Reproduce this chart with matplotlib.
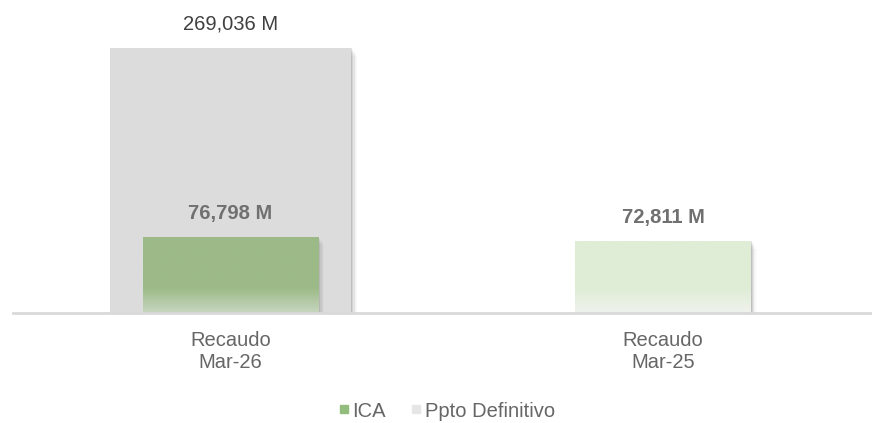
import numpy as np
import matplotlib
matplotlib.use("Agg")
import matplotlib.pyplot as plt
from matplotlib.colors import LinearSegmentedColormap
from matplotlib.patches import Rectangle
from matplotlib.lines import Line2D

categories = ["Recaudo\nMar-26", "Recaudo\nMar-25"]
ica_values = [76798, 72811]
ppto_values = [269036, None]
ica_labels = ["76,798 M", "72,811 M"]
ppto_labels = ["269,036 M", None]

plt.rcParams['font.family'] = ['Liberation Sans', 'DejaVu Sans']

W, H = 872, 423
fig = plt.figure(figsize=(W / 100, H / 100), dpi=100)
ax_left, ax_bottom_px = 13, 313
ax = fig.add_axes([ax_left / W, (H - ax_bottom_px) / H, 1 - ax_left / W, ax_bottom_px / H])

scale = 432.5
x0 = -(230.5 - ax_left) / scale
x1 = 1 + (W - 663) / scale
ymax = 269036 * 313 / 265

for s in ax.spines.values():
    s.set_visible(False)
ax.spines['bottom'].set_visible(True)
ax.spines['bottom'].set_color('#d9d9d9')
ax.spines['bottom'].set_linewidth(2)
ax.set_yticks([])
ax.tick_params(axis='x', length=0, pad=13, labelsize=14.5, labelcolor='#666666')
ax.set_xticks(range(len(categories)))
ax.set_xticklabels(categories, linespacing=1.2)

pw, gw = 0.557, 0.405

def shadow(x, w, h, z):
    for i, a in enumerate([0.10, 0.07, 0.05, 0.03, 0.02]):
        dx = (i + 1) * 1.2 / scale
        ax.add_patch(Rectangle((x + w / 2 - 1 / scale, 0), dx + 1 / scale, h - ymax * 0.006 * i,
                               facecolor='black', alpha=a, lw=0, zorder=z))

def grad_bar(x, w, h, top, bottom, z):
    cmap = LinearSegmentedColormap.from_list('g', [bottom, top, top, top])
    grad = np.linspace(0, 1, 256).reshape(-1, 1)
    rect = Rectangle((x - w / 2, 0), w, h, facecolor='none', lw=0, zorder=z)
    ax.add_patch(rect)
    im = ax.imshow(grad, extent=(x - w / 2, x + w / 2, 0, h), origin='lower',
                   cmap=cmap, aspect='auto', zorder=z, interpolation='bilinear')
    im.set_clip_path(rect)

for i, v in enumerate(ppto_values):
    if v is None:
        continue
    shadow(i, pw, v, 1)
    ax.bar(i, v, width=pw, color='#dcdcdc', zorder=1.5, lw=0)
    ax.annotate(ppto_labels[i], (i, v), xytext=(0, 17), textcoords='offset points',
                ha='center', va='center', fontsize=14.5, color='#404040')

ica_colors = [('#9cba87', '#c8d6c0'), ('#dfedd6', '#eff2ee')]
for i, v in enumerate(ica_values):
    shadow(i, gw, v, 2)
    grad_bar(i, gw, v, ica_colors[i][0], ica_colors[i][1], 2.5)
    ax.annotate(ica_labels[i], (i, v), xytext=(0, 17), textcoords='offset points',
                ha='center', va='center', fontsize=14.5, color='#707070', fontweight='bold')
ax.set_xlim(x0, x1)
ax.set_ylim(0, ymax)

handles = [Line2D([], [], marker='s', ls='', color='#92bd7c', markersize=5.5),
           Line2D([], [], marker='s', ls='', color='#e6e6e6', markersize=5.5)]
fig.legend(handles, ['ICA', 'Ppto Definitivo'], loc='center left',
           bbox_to_anchor=(336.5 / W, 1 - 411 / H), borderpad=0, borderaxespad=0,
           ncol=2, frameon=False, fontsize=14.5, labelcolor='#666666', handletextpad=0.1,
           columnspacing=1.15, handlelength=0.7)

fig.savefig('out.png', dpi=100)
